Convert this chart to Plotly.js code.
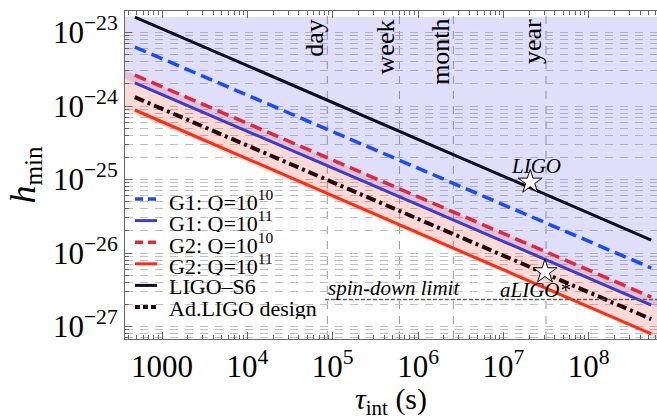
<!DOCTYPE html>
<html><head><meta charset="utf-8">
<script src="https://cdn.plot.ly/plotly-3.0.1.min.js"></script>
<style>html,body{margin:0;padding:0;background:#fff;} #chart{width:657px;height:420px;}</style>
</head><body><div id="chart"></div>
<script>
// ---- data ----
const lineTau = [480, 5.4e8];            // integration time (s) at line ends
const g1Q10  = [6.35e-24, 6.25e-27];
const g1Q11  = [2.06e-24, 1.96e-27];
const g2Q10  = [2.64e-24, 2.52e-27];
const g2Q11  = [8.83e-25, 7.91e-28];
const ligoS6 = [1.625e-23, 1.503e-26];
const adLigo = [1.32e-24, 1.26e-27];

const bandTau      = [300, 1e9];
const blueBandLow  = [2.61e-24, 1.44e-27];
const blueBandHigh = [1.63e-23, 1.63e-23];
const redBandLow   = [9.89e-25, 5.44e-28];
const redBandHigh  = [3.35e-24, 1.85e-27];

const spinTau = [8.1e4, 1e9];
const spinH   = [2.33e-27, 2.33e-27];

const starTau    = [2.06e7, 3.07e7];
const starH      = [9.25e-26, 5.57e-27];
const starLabels = ['LIGO', 'aLIGO*'];

const markTimes  = [86400, 604800, 2.592e6, 3.156e7];
const markLabels = ['day', 'week', 'month', 'year'];

const xTickVals = [1e3, 1e4, 1e5, 1e6, 1e7, 1e8];
const xTickText = ['1000', '10<sup>4</sup>', '10<sup>5</sup>', '10<sup>6</sup>', '10<sup>7</sup>', '10<sup>8</sup>'];
const yTickVals = [1e-27, 1e-26, 1e-25, 1e-24, 1e-23];
const yTickText = ['10<sup>−27</sup>', '10<sup>−26</sup>', '10<sup>−25</sup>', '10<sup>−24</sup>', '10<sup>−23</sup>'];

const legendNames = ['G1: Q=10<sup>10</sup>', 'G1: Q=10<sup>11</sup>', 'G2: Q=10<sup>10</sup>',
                     'G2: Q=10<sup>11</sup>', 'LIGO–S6', 'Ad.LIGO design'];

// ---- styles ----
const C = {
  black: 'rgb(12,12,40)', blueDash: 'rgb(25,75,250)', blue: 'rgb(60,60,205)',
  redDash: 'rgb(222,40,62)', red: 'rgb(255,45,15)', dashdot: 'rgb(40,5,8)'
};
const styles = [
  {color: C.blueDash, dash: '12px,6px', width: 3.5},
  {color: C.blue, dash: 'solid', width: 3},
  {color: C.redDash, dash: '12px,6px', width: 3.5},
  {color: C.red, dash: 'solid', width: 3},
  {color: C.black, dash: 'solid', width: 3},
  {color: C.dashdot, dash: '10px,4px,3px,4px', width: 4}
];
const series = [g1Q10, g1Q11, g2Q10, g2Q11, ligoS6, adLigo];

const traces = [];
function band(low, high, fill) {
  traces.push({x: bandTau, y: low, mode: 'lines', line: {width: 0}, hoverinfo: 'skip'});
  traces.push({x: bandTau, y: high, mode: 'lines', line: {width: 0}, fill: 'tonexty', fillcolor: fill, hoverinfo: 'skip'});
}
band(blueBandLow, blueBandHigh, 'rgba(110,110,240,0.22)');
band(redBandLow, redBandHigh, 'rgba(245,70,60,0.20)');

const drawOrder = [4, 0, 2, 1, 5, 3];
drawOrder.forEach(i => {
  traces.push({x: lineTau, y: series[i], mode: 'lines', name: legendNames[i], line: styles[i]});
});
traces.push({x: spinTau, y: spinH, mode: 'lines', line: {color: 'rgb(95,95,95)', width: 1.6, dash: '4px,2px'}});
traces.push({x: starTau, y: starH, mode: 'markers',
  marker: {symbol: 'star', size: 18, color: 'white', line: {color: 'black', width: 1}}});

// ---- layout helpers ----
const L = 125, R = 657, T = 11, B = 339;
const px2paperX = p => (p - L) / (R - L);
const px2paperY = p => 1 - (p - T) / (B - T);

const shapes = [];
const annotations = [];

// white legend background (covers gridlines only)
shapes.push({type: 'rect', xref: 'paper', yref: 'paper', layer: 'between',
  x0: px2paperX(126.5), x1: px2paperX(323), y0: px2paperY(322), y1: px2paperY(170),
  fillcolor: 'white', line: {width: 0}});

// time markers
markTimes.forEach((t, i) => {
  shapes.push({type: 'line', xref: 'x', yref: 'paper', x0: t, x1: t, y0: 0, y1: 0.985, layer: 'between',
    line: {color: 'rgb(150,150,150)', width: 1, dash: '8px,7px'}});
  annotations.push({x: Math.log10(t), xref: 'x', y: px2paperY(17), yref: 'paper', text: markLabels[i],
    textangle: -90, xanchor: 'right', yanchor: 'top', xshift: 3, showarrow: false,
    font: {size: 26, color: '#000'}});
});

// star labels
annotations.push({x: Math.log10(starTau[0]), y: Math.log10(starH[0]), xref: 'x', yref: 'y', text: '<i>' + starLabels[0] + '</i>',
  showarrow: false, xshift: 6, yshift: 16, font: {size: 21}});
annotations.push({x: Math.log10(starTau[1]), y: Math.log10(starH[1]), xref: 'x', yref: 'y', text: '<i>' + starLabels[1] + '</i>',
  showarrow: false, xshift: -9, yshift: -18, font: {size: 21}});
annotations.push({x: 5.718, y: Math.log10(spinH[0]), xref: 'x', yref: 'y', text: '<i>spin-down limit</i>',
  showarrow: false, yanchor: 'bottom', yshift: -2, font: {size: 21}});

// manual legend
legendNames.forEach((n, i) => {
  const py = 199 + 21.6 * i;
  shapes.push({type: 'line', xref: 'paper', yref: 'paper', x0: px2paperX(135), x1: px2paperX(157),
    y0: px2paperY(py), y1: px2paperY(py), layer: 'above',
    line: {color: styles[i].color, width: styles[i].width, dash: i === 5 ? '5px,3px' : (i === 0 || i === 2 ? '8px,5px' : 'solid')}});
  annotations.push({x: px2paperX(167), y: px2paperY(py + 1), xref: 'paper', yref: 'paper', text: n,
    xanchor: 'left', yanchor: 'middle', valign: 'middle', height: 21, showarrow: false,
    font: {size: 22, color: '#000'}});
});

const gridDash = '8px,7px';
const gridColor = 'rgb(192,192,192)';
const layout = {
  width: 657, height: 420,
  margin: {l: L, r: 0, t: T, b: 420 - B},
  paper_bgcolor: 'white', plot_bgcolor: 'white',
  showlegend: false,
  font: {family: '"Liberation Serif", "Times New Roman", serif', color: '#000'},
  xaxis: {
    type: 'log', range: [2.566, 8.80], tickmode: 'array', tickvals: xTickVals, ticktext: xTickText,
    ticks: 'inside', ticklen: 7, tickcolor: '#666', showline: true, linecolor: '#666', linewidth: 1,
    mirror: 'allticks', showgrid: false, zeroline: false, tickfont: {size: 31},
    minor: {dtick: 'D1', ticks: 'inside', ticklen: 4, tickcolor: '#666', showgrid: false},
    title: {text: '<i>τ</i><sub>int</sub> (s)', font: {size: 30}, standoff: 8}
  },
  yaxis: {
    type: 'log', range: [-27.170, -22.707], tickmode: 'array', tickvals: yTickVals, ticktext: yTickText,
    ticks: 'inside', ticklen: 7, tickcolor: '#666', showline: true, linecolor: '#666', linewidth: 1,
    mirror: false, showgrid: true, gridcolor: gridColor, griddash: gridDash, gridwidth: 1,
    zeroline: false, tickfont: {size: 31},
    minor: {dtick: 'D1', ticks: 'inside', ticklen: 4, tickcolor: '#666', showgrid: true,
            gridcolor: gridColor, griddash: gridDash, gridwidth: 1},
    title: {text: '<i>h</i><sub>min</sub>', font: {size: 36}, standoff: 6}
  },
  shapes: shapes,
  annotations: annotations
};

Plotly.newPlot('chart', traces, layout, {displayModeBar: false, staticPlot: true});
</script>
</body></html>
